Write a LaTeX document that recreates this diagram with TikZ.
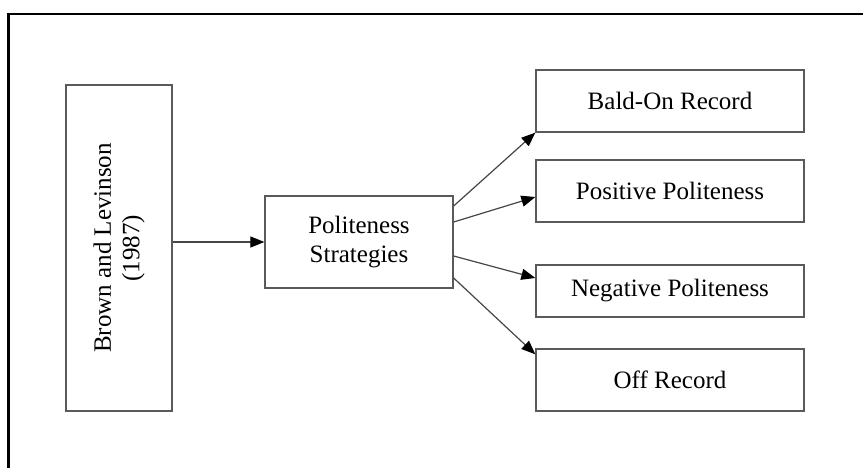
\documentclass[tikz,border=0pt]{standalone}
\usepackage{fontspec}
\setmainfont{Liberation Serif}
\usetikzlibrary{arrows.meta,calc}
\definecolor{boxgray}{RGB}{90,90,90}
\definecolor{linegray}{RGB}{70,70,70}
\tikzset{
  box/.style={draw=boxgray, line width=1.3pt, fill=white, inner sep=0pt, align=center,
    font=\fontsize{25}{28.5}\selectfont},
  arr/.style={draw=linegray, line width=1.2pt, -{Triangle[length=14pt,width=11pt,color=black]}},
}
\begin{document}
\begin{tikzpicture}[x=1pt,y=-1pt]
\useasboundingbox (0,0) rectangle (863,468);
\clip (0,0) rectangle (863,468);
\fill[white] (0,0) rectangle (863,468);
\draw[black, line width=2.5pt] (8.5,480) -- (8.5,14) -- (880,14);

\node[box, rotate=90, minimum width=326pt, minimum height=106pt] (bl) at (119,248)
  {Brown and Levinson\\(1987)};
\node[box, minimum width=188pt, minimum height=92pt] (pol) at (359,242)
  {Politeness\\Strategies};
\node[box, minimum width=268pt, minimum height=62pt] (bald) at (670,101) {Bald-On Record};
\node[box, minimum width=268pt, minimum height=62pt] (pos) at (670,191) {Positive Politeness};
\node[box, minimum width=268pt, minimum height=52pt] (neg) at (670,291) {Negative Politeness};
\node[box, minimum width=268pt, minimum height=62pt] (off) at (670,380) {Off Record};

\draw[arr] (bl.south |- pol.west) -- (pol.west);
\draw[arr] ($(pol.east)+(0,-36)$) -- (bald.south west);
\draw[arr] ($(pol.east)+(0,-20)$) -- ($(pos.west)+(0,6)$);
\draw[arr] ($(pol.east)+(0,14)$) -- ($(neg.west)+(0,-13)$);
\draw[arr] ($(pol.east)+(0,36)$) -- ($(off.north west)+(0,6)$);
\end{tikzpicture}
\end{document}
